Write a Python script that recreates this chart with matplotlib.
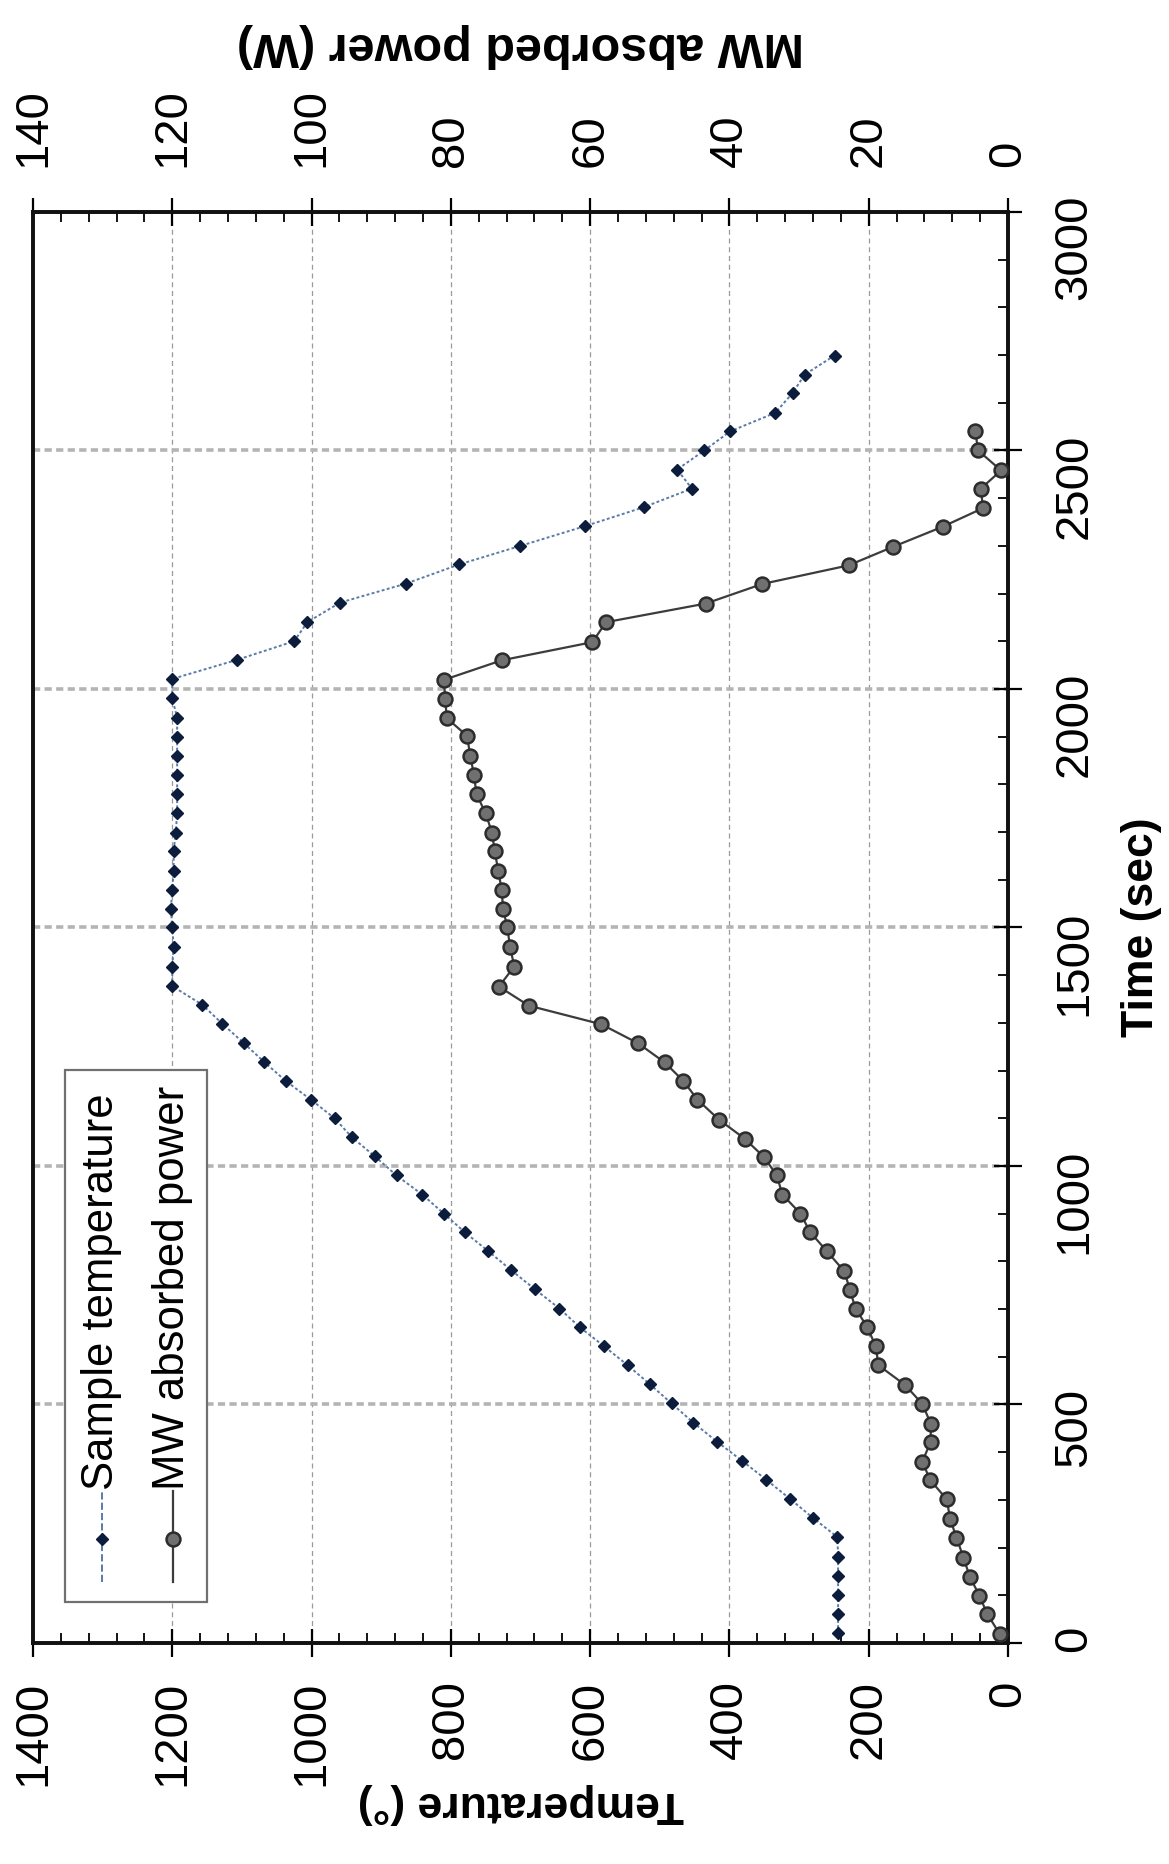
import matplotlib
matplotlib.use("Agg")
import matplotlib.pyplot as plt
from matplotlib.ticker import MultipleLocator
from matplotlib.patches import Rectangle
from matplotlib.lines import Line2D

plt.rcParams['font.family'] = ['Liberation Sans', 'DejaVu Sans']

# sample temperature (deg) against time (s)
temp_time = [20, 60, 100, 140, 180, 222, 262, 302, 342, 382, 422, 462, 502, 542,
             582, 622, 662, 701, 741, 781, 821, 861, 900, 940, 980, 1020, 1060,
             1100, 1139, 1178, 1218, 1257, 1298, 1338, 1377, 1418, 1460, 1500,
             1539, 1579, 1619, 1660, 1699, 1739, 1779, 1820, 1860, 1900, 1940,
             1980, 2021, 2061, 2100, 2140, 2181, 2221, 2261, 2300, 2341, 2381,
             2420, 2460, 2500, 2540, 2579, 2621, 2659, 2699]
temp_val = [244, 244, 244, 244, 244, 245, 280, 313, 347, 382, 418, 452, 483, 514,
            546, 580, 615, 644, 679, 713, 746, 780, 810, 841, 878, 909, 942,
            967, 1001, 1037, 1068, 1097, 1128, 1157, 1200, 1200, 1198, 1200,
            1202, 1200, 1198, 1198, 1195, 1193, 1193, 1193, 1193, 1193, 1193,
            1200, 1200, 1107, 1025, 1006, 959, 864, 788, 700, 608, 523,
            454, 475, 436, 399, 334, 309, 292, 249]

# MW absorbed power (W) against time (s)
power_time = [19, 61, 99, 139, 179, 221, 259, 301, 342, 380, 422, 460, 501, 541,
              582, 622, 662, 701, 740, 779, 821, 861, 900, 940, 980, 1018, 1057,
              1097, 1139, 1178, 1217, 1257, 1297, 1336, 1376, 1418, 1460, 1500,
              1539, 1579, 1619, 1660, 1699, 1739, 1779, 1820, 1860, 1902, 1939,
              1979, 2019, 2060, 2098, 2140, 2179, 2220, 2259, 2298, 2340, 2379,
              2420, 2458, 2500, 2540]
power_val = [1.2, 3.0, 4.1, 5.5, 6.4, 7.4, 8.3, 8.8, 11.2, 12.3, 11.1, 11.1, 12.3, 14.8,
             18.6, 19.0, 20.2, 21.9, 22.7, 23.5, 26.0, 28.4, 29.8, 32.4, 33.2, 35.0, 37.8,
             41.5, 44.6, 46.6, 49.3, 53.1, 58.4, 68.8, 73.1, 70.9, 71.5, 71.9,
             72.5, 72.7, 73.2, 73.7, 74.1, 75.0, 76.3, 76.7, 77.2, 77.7, 80.6,
             80.8, 81.0, 72.7, 59.7, 57.7, 43.4, 35.3, 22.9, 16.5, 9.4, 3.6,
             3.9, 1.0, 4.3, 4.7]

time_ticks = [0, 500, 1000, 1500, 2000, 2500, 3000]
temp_ticks = [0, 200, 400, 600, 800, 1000, 1200, 1400]
power_ticks = [0, 20, 40, 60, 80, 100, 120, 140]

fig = plt.figure(figsize=(11.69, 18.64), dpi=100)
ax = fig.add_axes([0.0282, 0.1186, 0.8341, 0.7677])

ax.set_xlim(1400, 0)
ax.set_ylim(0, 3000)

ax.grid(axis='x', which='major', linestyle=(0, (4, 3)), color='#9a9a9a', lw=0.9)
ax.grid(axis='y', which='major', linestyle=(0, (2, 1.2)), color='#b4b4b4', lw=2.6)
ax.set_axisbelow(True)

l1, = ax.plot(temp_val, temp_time, linestyle=(0, (1.5, 1.2)), color='#5a7aa8', lw=1.4,
              marker='D', markersize=6.5, markerfacecolor='#0c1c3c',
              markeredgecolor='#0c1c3c', zorder=3)

ax.set_xticks(temp_ticks, labels=[str(v) for v in temp_ticks], rotation=90, fontsize=34)
ax.set_yticks(time_ticks, labels=[str(v) for v in time_ticks], rotation=90, fontsize=34)
ax.xaxis.set_minor_locator(MultipleLocator(40))
ax.yaxis.set_minor_locator(MultipleLocator(100))
ax.yaxis.tick_right()
ax.yaxis.set_label_position('right')
ax.tick_params(which='major', direction='inout', length=20, width=1.6)
ax.tick_params(which='minor', direction='in', length=7, width=1.3)
ax.tick_params(axis='x', which='major', pad=17)
ax.tick_params(axis='y', which='major', pad=22)
ax.tick_params(axis='x', which='both', top=False)
ax.tick_params(axis='y', which='both', left=False, right=True)

ax.set_xlabel('Temperature (°)', fontsize=32, fontweight='bold', rotation=180, labelpad=-2)
ax.set_ylabel('Time (sec)', fontsize=32, fontweight='bold', rotation=90, labelpad=18)

ax2 = ax.twiny()
ax2.set_xlim(140, 0)
l2, = ax2.plot(power_val, power_time, linestyle='-', color='#3c3c3c', lw=1.6,
               marker='o', markersize=10, markerfacecolor='#707070',
               markeredgecolor='#2c2c2c', markeredgewidth=1.8, zorder=3)
ax2.set_xticks(power_ticks, labels=[str(v) for v in power_ticks], rotation=90, fontsize=34)
ax2.xaxis.set_minor_locator(MultipleLocator(4))
ax2.tick_params(which='major', direction='inout', length=20, width=1.6, pad=22)
ax2.tick_params(which='minor', direction='in', length=7, width=1.3)
ax2.set_xlabel('MW absorbed power (W)', fontsize=35, fontweight='bold', rotation=180,
               labelpad=22)

for a in (ax, ax2):
    for s in a.spines.values():
        s.set_linewidth(2.6)
        s.set_color('#111111')

# legend drawn by hand so the entries can be turned like the rest of the chart
box = Rectangle((0.0328, 0.0287), 0.1457, 0.3717, transform=ax.transAxes,
                facecolor='white', edgecolor='#707070', lw=1.6, zorder=5)
ax2.add_patch(box)
entries = [(0.0705, l1, 'Sample temperature'), (0.1433, l2, 'MW absorbed power')]
for xpos, src, label in entries:
    ax2.add_line(Line2D([xpos, xpos], [0.0426, 0.106], transform=ax.transAxes,
                        linestyle=src.get_linestyle(), color=src.get_color(),
                        lw=src.get_linewidth(), zorder=6))
    ax2.add_line(Line2D([xpos], [0.0727], transform=ax.transAxes, linestyle='none',
                        marker=src.get_marker(), markersize=src.get_markersize(),
                        markerfacecolor=src.get_markerfacecolor(),
                        markeredgecolor=src.get_markeredgecolor(),
                        markeredgewidth=src.get_markeredgewidth(), zorder=6))
    ax2.text(xpos, 0.107, label, transform=ax.transAxes, rotation=90, ha='center',
             va='bottom', fontsize=31.5, zorder=7)

fig.savefig('out.png', dpi=100)
